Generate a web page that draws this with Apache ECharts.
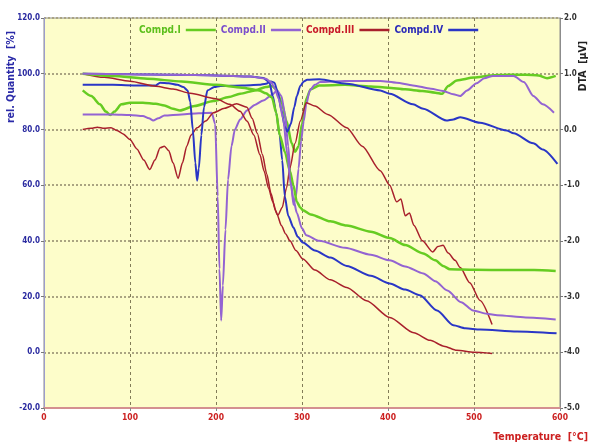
<!DOCTYPE html>
<html>
<head>
<meta charset="utf-8">
<script src="https://cdn.jsdelivr.net/npm/echarts@6/dist/echarts.min.js"></script>
<style>html,body{margin:0;padding:0;background:#fff}#c{width:592px;height:445px}</style>
</head>
<body>
<div id="c"></div>
<script>
// ---- axis ticks ----
const xTicks = [0, 100, 200, 300, 400, 500, 600];
const leftTicks = [-20, 0, 20, 40, 60, 80, 100, 120];
const rightTicks = [-5, -4, -3, -2, -1, 0, 1, 2];
const seriesNames = ['Compd.I', 'Compd.II', 'Compd.III', 'Compd.IV'];

// ---- Compd.I (TG, %) ----
const tgI_T = [45, 80, 120, 160, 200, 230, 250, 258, 265, 270, 274, 280, 286, 290, 294, 298, 301, 310, 333, 352, 380, 402, 420, 441, 455, 464, 472, 500, 540, 570, 595];
const tgI_V = [100, 99.2, 98.2, 97.2, 96, 95, 94, 93, 91.5, 86, 78, 72, 65, 60, 54, 52, 51, 49.5, 47, 45.5, 43.3, 41, 38.5, 35.5, 33, 31, 29.8, 29.6, 29.5, 29.5, 29.2];
// ---- Compd.I (DTA, µV) ----
const dtaI_T = [45, 55, 65, 72, 77, 82, 90, 100, 115, 130, 140, 150, 158, 175, 197, 215, 228, 245, 258, 265, 270, 276, 282, 288, 292, 296, 300, 305, 310, 320, 350, 380, 400, 420, 440, 455, 463, 470, 480, 500, 520, 540, 560, 575, 585, 595];
const dtaI_V = [0.70, 0.6, 0.45, 0.32, 0.26, 0.32, 0.45, 0.48, 0.48, 0.46, 0.43, 0.37, 0.34, 0.42, 0.51, 0.58, 0.64, 0.70, 0.76, 0.78, 0.72, 0.5, 0.15, -0.25, -0.4, -0.3, 0.1, 0.55, 0.72, 0.79, 0.8, 0.77, 0.75, 0.72, 0.69, 0.66, 0.64, 0.78, 0.88, 0.93, 0.97, 0.98, 0.98, 0.97, 0.92, 0.96];

// ---- Compd.II ----
const tgII_T = [45, 100, 150, 200, 240, 258, 264, 268, 273, 278, 283, 287, 290, 294, 300, 305, 320, 350, 380, 402, 420, 441, 455, 469, 485, 499, 515, 527, 560, 595];
const tgII_V = [100, 99.8, 99.6, 99.4, 99, 98.2, 97, 95, 91, 84, 71, 60, 55, 50, 44.5, 42, 40, 37.5, 35, 33, 30.8, 28.3, 25.5, 22.2, 18, 15, 13.8, 13.3, 12.5, 11.8];
const dtaII_T = [45, 80, 100, 115, 122, 127, 133, 140, 160, 180, 195, 199, 202, 204, 206, 208, 211, 214, 218, 222, 228, 236, 245, 255, 265, 271, 276, 280, 284, 287, 290, 293, 296, 299, 302, 305, 309, 315, 321, 350, 391, 410, 429, 450, 464, 476, 484, 492, 503, 512, 522, 546, 558, 569, 580, 593];
const dtaII_V = [0.27, 0.27, 0.26, 0.24, 0.2, 0.16, 0.2, 0.25, 0.27, 0.29, 0.3, 0.1, -1.2, -2.5, -3.43, -2.8, -1.8, -0.9, -0.3, 0.0, 0.18, 0.34, 0.44, 0.52, 0.62, 0.7, 0.6, 0.3, -0.3, -0.9, -1.35, -1.2, -0.7, -0.2, 0.15, 0.45, 0.7, 0.8, 0.85, 0.87, 0.87, 0.84, 0.79, 0.73, 0.69, 0.63, 0.6, 0.7, 0.83, 0.92, 0.96, 0.96, 0.85, 0.6, 0.45, 0.3];

// ---- Compd.III ----
const tgIII_T = [45, 70, 100, 130, 150, 170, 200, 216, 228, 236, 244, 251, 256, 261, 266, 271, 276, 281, 286, 293, 301, 315, 333, 352, 375, 402, 430, 449, 465, 480, 500, 521];
const tgIII_V = [100, 98.7, 97.3, 95.5, 94.5, 93, 91, 89, 86.5, 83, 78, 71, 65, 59, 54, 49.5, 45.5, 42.5, 40, 36.5, 33.5, 29.5, 26, 23.3, 18.5, 12.5, 7, 4.3, 2.2, 0.7, 0, -0.4];
const dtaIII_T = [45, 55, 62, 70, 78, 85, 92, 100, 108, 116, 123, 129, 135, 140, 145, 150, 156, 161, 166, 171, 178, 188, 197, 210, 224, 236, 242, 248, 254, 259, 264, 269, 272, 277, 282, 286, 292, 298, 305, 315, 330, 352, 370, 391, 402, 410, 415, 420, 425, 430, 440, 452, 458, 464, 470, 478, 484, 495, 507, 521];
const dtaIII_V = [0.0, 0.02, 0.04, 0.02, 0.03, -0.02, -0.08, -0.18, -0.35, -0.55, -0.72, -0.55, -0.33, -0.3, -0.38, -0.6, -0.88, -0.6, -0.3, -0.1, 0.03, 0.15, 0.3, 0.38, 0.46, 0.4, 0.2, -0.07, -0.45, -0.8, -1.15, -1.45, -1.54, -1.4, -1.05, -0.69, -0.25, 0.15, 0.48, 0.42, 0.27, 0.03, -0.3, -0.74, -1.0, -1.3, -1.25, -1.55, -1.5, -1.72, -2.0, -2.2, -2.1, -2.08, -2.22, -2.35, -2.48, -2.75, -3.07, -3.5];

// ---- Compd.IV ----
const tgIV_T = [45, 100, 150, 200, 240, 255, 262, 266, 270, 274, 277, 280, 284, 290, 295, 301, 315, 333, 352, 380, 402, 420, 437, 457, 476, 490, 507, 550, 596];
const tgIV_V = [100, 99.8, 99.6, 99.4, 99, 98.5, 97, 92, 86, 78, 69, 56, 49, 44.8, 41.5, 39.4, 36.5, 34, 31, 27.5, 24.7, 22.5, 20.5, 15, 9.7, 8.6, 8.2, 7.5, 6.8];
const dtaIV_T = [45, 80, 110, 130, 135, 145, 155, 162, 167, 170, 173, 176, 178, 180, 183, 186, 190, 198, 205, 230, 250, 258, 264, 268, 272, 276, 280, 283, 287, 291, 294, 298, 302, 306, 320, 352, 391, 402, 429, 441, 468, 476, 484, 507, 538, 546, 569, 580, 597];
const dtaIV_V = [0.8, 0.8, 0.79, 0.79, 0.84, 0.83, 0.8, 0.76, 0.7, 0.5, 0.0, -0.6, -0.92, -0.7, -0.1, 0.4, 0.7, 0.76, 0.78, 0.79, 0.8, 0.82, 0.86, 0.84, 0.65, 0.35, 0.05, -0.04, 0.1, 0.4, 0.6, 0.78, 0.86, 0.89, 0.9, 0.82, 0.7, 0.64, 0.45, 0.37, 0.16, 0.18, 0.22, 0.12, -0.02, -0.07, -0.25, -0.36, -0.62];

const lineColors = ['#66cc22', '#9363d2', '#a8202c', '#2a36c6'];
const legendColors = ['#5cbf1c', '#7b4fcc', '#c81a2a', '#2a2ab8'];
const narrow = "'Liberation Sans Narrow','DejaVu Sans Condensed','Arial Narrow',sans-serif";

function zip(t, v) { return t.map((x, i) => [x, v[i]]); }
function mk(idx, t, v, axis, width) {
  return {
    name: seriesNames[idx], type: 'line', yAxisIndex: axis, data: zip(t, v),
    symbol: 'none', smooth: 0.25, smoothMonotone: 'x',
    lineStyle: { color: lineColors[idx], width: width },
    itemStyle: { color: lineColors[idx] }
  };
}

const chart = echarts.init(document.getElementById('c'), null, { renderer: 'canvas' });
chart.setOption({
  animation: false,
  backgroundColor: '#ffffff',
  grid: { left: 44, right: 32, top: 18, bottom: 37, show: true, backgroundColor: '#fdfdca', borderColor: '#8c8c8c', borderWidth: 1 },
  legend: {
    top: 20, left: 134, itemWidth: 30, itemHeight: 2.5, itemGap: 5, align: 'right', icon: 'rect',
    textStyle: { fontWeight: 'bold', fontSize: 10, fontFamily: narrow },
    data: seriesNames.map((n, i) => ({ name: n, textStyle: { color: legendColors[i] }, itemStyle: { color: lineColors[i] } }))
  },
  xAxis: {
    type: 'value', min: xTicks[0], max: xTicks[xTicks.length - 1], interval: 100,
    axisLine: { onZero: false, lineStyle: { color: '#d49090', width: 2 } },
    axisTick: { show: true, length: 3, lineStyle: { color: '#888' } },
    axisLabel: { color: '#cc2222', fontFamily: narrow, fontSize: 8.5, fontWeight: 'bold', margin: 5 },
    splitLine: { show: true, lineStyle: { color: '#827c58', type: [3, 3], width: 1 } }
  },
  yAxis: [
    {
      type: 'value', min: leftTicks[0], max: leftTicks[leftTicks.length - 1], interval: 20, position: 'left',
      axisLine: { show: true, lineStyle: { color: '#9c9ccc', width: 1 } },
      axisTick: { show: true, length: 3, lineStyle: { color: '#777' } },
      axisLabel: { color: '#2a2aa0', fontFamily: narrow, fontSize: 8, fontWeight: 'bold', margin: 4, showMinLabel: true, showMaxLabel: true, formatter: v => v.toFixed(1) },
      splitLine: { show: true, lineStyle: { color: '#aaa482', type: [2, 2], width: 2 } }
    },
    {
      type: 'value', min: rightTicks[0], max: rightTicks[rightTicks.length - 1], interval: 1, position: 'right',
      axisLine: { show: true, lineStyle: { color: '#8c8c8c', width: 1 } },
      axisTick: { show: true, length: 3, lineStyle: { color: '#777' } },
      axisLabel: { color: '#333333', fontFamily: narrow, fontSize: 8, fontWeight: 'bold', margin: 4, showMinLabel: true, showMaxLabel: true, formatter: v => v.toFixed(1) },
      splitLine: { show: false }
    }
  ],
  graphic: [
    { type: 'text', x: 11, y: 77, rotation: Math.PI / 2, style: { text: 'rel. Quantity  [%]', fill: '#2a2aa8', font: "bold 10.5px " + narrow, align: 'center', verticalAlign: 'middle' } },
    { type: 'text', x: 583, y: 66, rotation: Math.PI / 2, style: { text: 'DTA  [µV]', fill: '#222222', font: "bold 10.5px " + narrow, align: 'center', verticalAlign: 'middle' } },
    { type: 'text', x: 588, y: 437, style: { text: 'Temperature  [°C]', fill: '#cc2020', font: "bold 10.5px " + narrow, align: 'right', verticalAlign: 'middle' } }
  ],
  series: [
    mk(0, dtaI_T, dtaI_V, 1, 2.5),
    mk(1, dtaII_T, dtaII_V, 1, 2),
    mk(2, dtaIII_T, dtaIII_V, 1, 1.5),
    mk(3, dtaIV_T, dtaIV_V, 1, 2),
    mk(2, tgIII_T, tgIII_V, 0, 1.5),
    mk(3, tgIV_T, tgIV_V, 0, 2),
    mk(0, tgI_T, tgI_V, 0, 2.5),
    mk(1, tgII_T, tgII_V, 0, 2)
  ]
});
</script>
</body>
</html>
